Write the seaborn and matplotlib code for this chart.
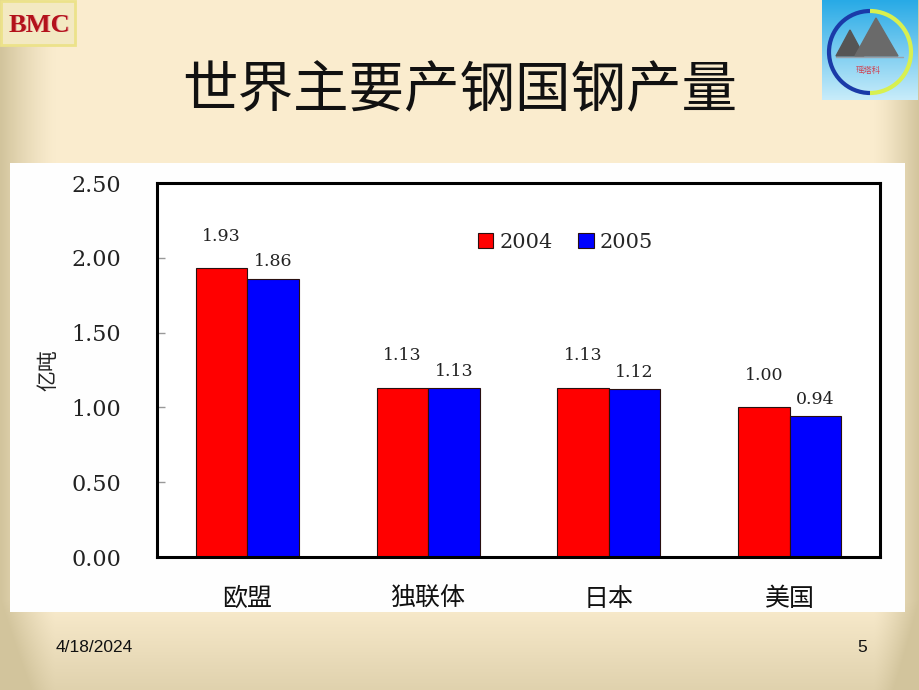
import numpy as np
import pandas as pd
import matplotlib
matplotlib.use("Agg")
import matplotlib.pyplot as plt
import matplotlib.patches as mpatches
import seaborn as sns

# 数据
countries = ["欧盟", "独联体", "日本", "美国"]
years = ["2004", "2005"]
prod_2004 = [1.93, 1.13, 1.13, 1.00]
prod_2005 = [1.86, 1.13, 1.12, 0.94]
y_ticks = [0.0, 0.5, 1.0, 1.5, 2.0, 2.5]

df = pd.DataFrame({
    "地区": countries * 2,
    "产量": prod_2004 + prod_2005,
    "年份": [years[0]] * 4 + [years[1]] * 4,
})

sns.set_theme(style="white")
plt.rcParams["font.family"] = ["Noto Sans CJK SC", "DejaVu Sans"]
NUM_FONT = ["DejaVu Serif", "Noto Sans CJK SC"]

W, H = 920, 690
fig = plt.figure(figsize=(9.2, 6.9), dpi=100)

# 幻灯片背景（米色渐变）
bg = fig.add_axes([0, 0, 1, 1])
xx = np.linspace(0, 1, W)[None, :]
yy = np.linspace(0, 1, H)[:, None]
base = np.array([250, 236, 206]) / 255
edge = np.array([210, 196, 156]) / 255
wx = np.clip(1 - xx / 0.06, 0, 1) ** 1.3 + np.clip((xx - 0.95) / 0.05, 0, 1) ** 1.3
wy = np.clip((yy - 0.87) / 0.13, 0, 1) * 0.65
w = np.clip(wx + wy, 0, 1)[..., None]
img = base * (1 - w) + edge * w
bg.imshow(img, extent=[0, W, H, 0], aspect="auto")
bg.axis("off")

# 白色图表区域
bg.add_patch(mpatches.Rectangle((10, 163), 895, 449, facecolor="#fefefe", edgecolor="none"))

# 左上角 BMC 标志
bg.add_patch(mpatches.Rectangle((1, 1), 74, 44, facecolor="#f3e9c2", edgecolor="#ece28a", lw=2))
bg.text(40, 26, "BMC", color="#e8a0a0", fontsize=19, fontweight="bold",
        family=["Liberation Serif"], ha="center", va="center")
bg.text(39, 25, "BMC", color="#b3121b", fontsize=19, fontweight="bold",
        family=["Liberation Serif"], ha="center", va="center")

# 右上角标志
grad = np.linspace(0, 1, 100)[:, None, None]
top_c = np.array([40, 170, 230]) / 255
bot_c = np.array([200, 236, 250]) / 255
bg.imshow(top_c * (1 - grad) + bot_c * grad * np.ones((1, 96, 1)),
          extent=[822, 918, 100, 0], aspect="auto", zorder=2)
bg.add_patch(mpatches.Arc((870, 52), 82, 82, theta1=90, theta2=270, color="#1a3aa8", lw=3, zorder=3))
bg.add_patch(mpatches.Arc((870, 52), 82, 82, theta1=-90, theta2=90, color="#d8f050", lw=3, zorder=3))
bg.add_patch(mpatches.Polygon([(836, 56), (850, 30), (864, 56)], color="#555555", zorder=3))
bg.add_patch(mpatches.Polygon([(855, 56), (876, 18), (898, 56)], color="#6a6a6a", zorder=3))
bg.plot([836, 903], [57, 57], color="#9aa0a8", lw=1, zorder=3)
bg.text(868, 70, "瑶塔科", color="#d04050", fontsize=6, ha="center", va="center", zorder=4)
bg.set_xlim(0, W)
bg.set_ylim(H, 0)

# 标题
bg.text(460, 92, "世界主要产钢国钢产量", fontsize=40, fontweight="light",
        ha="center", va="center", color="#111111")

# 页脚
bg.text(56, 647, "4/18/2024", fontsize=12.5, family=["Liberation Sans Narrow", "Liberation Sans"],
        ha="left", va="center", color="#111111")
bg.text(862, 647, "5", fontsize=12.5, family=["Liberation Sans Narrow", "Liberation Sans"],
        ha="center", va="center", color="#111111")

# 柱状图
ax = fig.add_axes([157 / W, 1 - 557 / H, 723 / W, 374 / H])
ax.set_facecolor("white")
sns.barplot(data=df, x="地区", y="产量", hue="年份", order=countries, hue_order=years,
            palette=["#ff0000", "#0000ff"], saturation=1, width=0.57,
            edgecolor="#2a1010", linewidth=0.8, ax=ax)

for cont, pad in zip(ax.containers, [17, 6]):
    ax.bar_label(cont, fmt="%.2f", padding=pad, fontsize=12.5, family=NUM_FONT, color="#222222")

ax.set_xlim(-0.5, 3.5)
ax.set_ylim(0, 2.5)
ax.set_yticks(y_ticks)
ax.set_yticklabels([f"{v:.2f}" for v in y_ticks], family=NUM_FONT, fontsize=16, color="#222222")
ax.set_xticks(range(len(countries)))
ax.set_xticklabels(countries, fontsize=18, color="#111111")
ax.set_xticks([0.5, 1.5, 2.5], minor=True)
ax.tick_params(axis="x", which="major", length=0, pad=21)
ax.tick_params(axis="x", which="minor", direction="in", length=5, color="#999999", width=1)
ax.tick_params(axis="y", direction="in", length=6, color="#999999", width=1, pad=26, left=True)
ax.set_xlabel("")
ax.set_ylabel("亿吨", fontsize=15, color="#222222", labelpad=8)

for s in ax.spines.values():
    s.set_visible(True)
    s.set_color("black")
    s.set_linewidth(2.2)

leg = ax.legend(loc="center", bbox_to_anchor=(0.565, 0.842), ncol=2, frameon=False,
                handlelength=0.75, handleheight=0.75, handletextpad=0.3, columnspacing=1.2,
                prop={"family": NUM_FONT, "size": 15})
for h in leg.legend_handles:
    h.set_edgecolor("#2a1010")

fig.savefig("out.png", dpi=100)
